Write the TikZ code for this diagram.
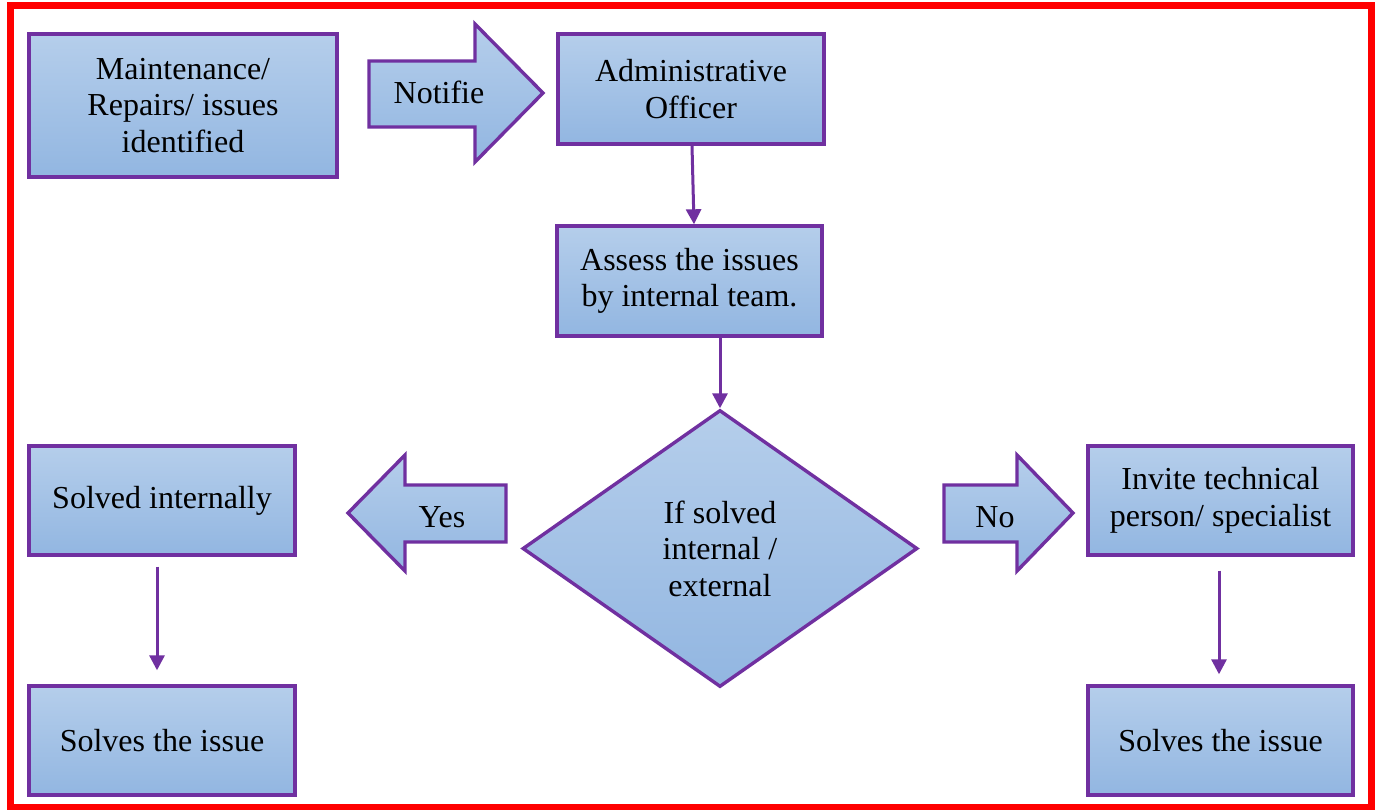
\documentclass[tikz,border=0pt]{standalone}
\usepackage{fontspec}
\setmainfont{Liberation Serif}
\usetikzlibrary{shapes.geometric,arrows.meta,calc}
\definecolor{edgepurple}{HTML}{7030A0}
\definecolor{filltop}{HTML}{B5CEEB}
\definecolor{fillbot}{HTML}{92B6E1}
\definecolor{framered}{HTML}{FF0000}
\tikzset{
  shaded/.style={top color=filltop, bottom color=fillbot, draw=edgepurple, line width=3.4pt, line join=miter},
  stepbox/.style={shaded, rectangle, inner sep=2pt, align=center, font=\fontsize{32}{36.5}\selectfont},
  label/.style={font=\fontsize{32}{36.5}\selectfont, align=center, inner sep=0pt},
  conn/.style={draw=edgepurple, line width=3pt, -{Triangle[width=15pt,length=15pt]}}
}
\begin{document}
\begin{tikzpicture}[x=1pt,y=-1pt]
\useasboundingbox (0,0) rectangle (1376,809);
\fill[white] (0,0) rectangle (1376,809);
% outer frame
\draw[framered, line width=7pt] (10.5,5.5) rectangle (1371.5,807.5);

% process boxes
\node[stepbox, minimum width=308pt, minimum height=143pt] (maint) at (183,105.5) {Maintenance/\\Repairs/ issues\\identified};
\node[stepbox, minimum width=266pt, minimum height=110pt] (adm) at (691,89) {Administrative\\Officer};
\node[stepbox, minimum width=265pt, minimum height=110pt] (ass) at (689.5,281) {Assess the issues\\by internal team.};
\node[stepbox, minimum width=266pt, minimum height=109pt] (si) at (162,500.5) {Solved internally};
\node[stepbox, minimum width=266pt, minimum height=109pt] (sl) at (162,740.5) {Solves the issue};
\node[stepbox, minimum width=265pt, minimum height=109pt] (inv) at (1220.5,500.5) {Invite technical\\person/ specialist};
\node[stepbox, minimum width=265pt, minimum height=109pt] (sr) at (1220.5,740.5) {Solves the issue};

% decision
\node[shaded, diamond, minimum width=395pt, minimum height=277pt, inner sep=0pt, align=center, font=\fontsize{32}{36.5}\selectfont] (dia) at (720,548.5) {If solved\\internal /\\external};

% block arrows
\path[shaded] (369,61) -- (475,61) -- (475,24) -- (543,93) -- (475,162) -- (475,127) -- (369,127) -- cycle;
\node[label] (notif) at (439,92) {Notifie};

\path[shaded] (506,485) -- (405,485) -- (405,455) -- (348,513) -- (405,571) -- (405,542) -- (506,542) -- cycle;
\node[label] (yes) at (442,517) {Yes};

\path[shaded] (944,485) -- (1017,485) -- (1017,455) -- (1073,513) -- (1017,571) -- (1017,542) -- (944,542) -- cycle;
\node[label] (no) at (995,517) {No};

% connectors
\draw[conn] ([xshift=1pt]adm.south) -- ([xshift=4.5pt]ass.north);
\draw[conn] ([xshift=30.5pt]ass.south) -- (dia.north);
\draw[conn] ([xshift=-5pt,yshift=-10pt]si.south) -- ([xshift=-5pt,yshift=14pt]sl.north);
\draw[conn] ([xshift=-1.5pt,yshift=-14pt]inv.south) -- ([xshift=-1.5pt,yshift=10pt]sr.north);
\end{tikzpicture}
\end{document}
